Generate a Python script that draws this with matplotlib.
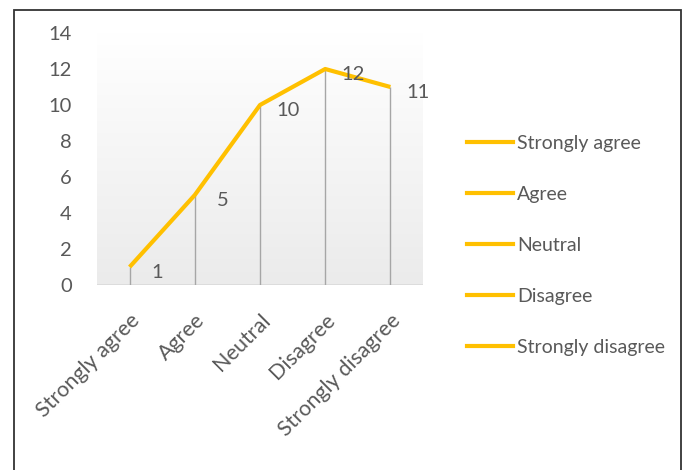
import matplotlib
matplotlib.use("Agg")
import matplotlib.pyplot as plt
import numpy as np
from matplotlib.lines import Line2D
from matplotlib.patches import Rectangle
from matplotlib.colors import LinearSegmentedColormap

categories = ["Strongly agree", "Agree", "Neutral", "Disagree", "Strongly disagree"]
values = [1, 5, 10, 12, 11]
yticks = [0, 2, 4, 6, 8, 10, 12, 14]

LINE = "#FFC000"
TXT = "#595959"
FS = 14.5
plt.rcParams['font.family'] = ['Lato', 'DejaVu Sans']

fig = plt.figure(figsize=(6.86, 4.70), dpi=100)
ax = fig.add_axes([0.1414, 0.3936, 0.4752, 0.5362])

x = np.arange(len(categories))
ax.set_xlim(-0.5, len(categories) - 0.5)
ax.set_ylim(0, 14)

# gradient background (white at top, light gray at bottom)
grad = np.linspace(0, 1, 256).reshape(-1, 1)
cmap = LinearSegmentedColormap.from_list("g", ["#ffffff", "#ebebeb"])
ax.imshow(grad, extent=[-0.5, len(categories) - 0.5, 0, 14], aspect='auto',
          cmap=cmap, origin='upper', zorder=0)

ax.vlines(x, 0, values, color="#a6a6a6", lw=1.0, zorder=2)
ax.plot(x, values, color=LINE, lw=3, zorder=3, solid_capstyle='butt')
ax.axhline(0, color="#d9d9d9", lw=1.2, zorder=1)

for xi, v in zip(x, values):
    ax.annotate(str(v), (xi, v), xytext=(20, -4), textcoords='offset points',
                ha='center', va='center', fontsize=FS, color=TXT, zorder=4)

for s in ax.spines.values():
    s.set_visible(False)
ax.set_yticks(yticks)
ax.set_yticklabels([str(t) for t in yticks], fontsize=FS, color=TXT)
ax.tick_params(axis='y', length=0, pad=18)
ax.set_xticks(x)
ax.set_xticklabels(categories, rotation=45, ha='right', va='top',
                   rotation_mode='anchor', fontsize=15.5, color=TXT)
ax.tick_params(axis='x', length=0, pad=18)

handles = [Line2D([], [], color=LINE, lw=3) for _ in categories]
leg = fig.legend(handles, categories, loc='upper left',
                 bbox_to_anchor=(0.655, 0.75), frameon=False,
                 fontsize=14, labelcolor=TXT, handlelength=2.4,
                 handletextpad=0.2, labelspacing=1.75)

# outer border
fig.add_artist(Rectangle((14 / 686, -0.05), (681 - 14) / 686, 1 - 10 / 470 + 0.05,
                         transform=fig.transFigure, fill=False,
                         edgecolor="#333333", lw=1.3))

fig.savefig("out.png", dpi=100)
